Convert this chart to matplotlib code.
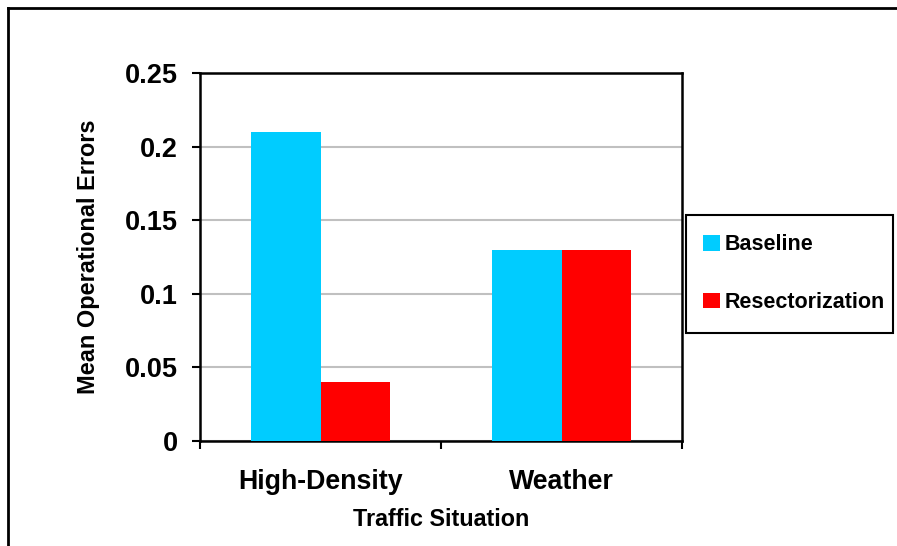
import matplotlib
matplotlib.use("Agg")
import matplotlib.pyplot as plt
from matplotlib.lines import Line2D
from matplotlib.patches import Rectangle
import numpy as np

categories = ["High-Density", "Weather"]
series_names = ["Baseline", "Resectorization"]
baseline = [0.21, 0.13]
resectorization = [0.04, 0.13]
colors = ["#00CCFF", "#FF0000"]
yticks = [0, 0.05, 0.1, 0.15, 0.2, 0.25]
ytick_labels = ["0", "0.05", "0.1", "0.15", "0.2", "0.25"]

plt.rcParams['font.family'] = ['Liberation Sans', 'DejaVu Sans']
plt.rcParams['font.weight'] = 'bold'

fig = plt.figure(figsize=(8.97, 5.46), dpi=100)
ax = fig.add_axes([200/897, 1-441/546, (682-200)/897, (441-73)/546])

x = np.arange(len(categories))
w = 0.29
b1 = ax.bar(x - w/2, baseline, width=w, color=colors[0], label=series_names[0], zorder=3)
b2 = ax.bar(x + w/2, resectorization, width=w, color=colors[1], label=series_names[1], zorder=3)

ax.set_xlim(-0.5, len(categories) - 0.5)
ax.set_ylim(0, 0.25)
ax.set_yticks(yticks)
ax.set_yticklabels(ytick_labels, fontsize=19.5, fontweight='bold')
ax.yaxis.grid(True, color="#c0c0c0", linewidth=1.5, zorder=0)
ax.set_axisbelow(True)

ax.set_xticks(x)
ax.set_xticklabels(categories, fontsize=19.3, fontweight='bold')
ax.set_xticks(np.arange(-0.5, len(categories)), minor=True)
ax.tick_params(axis='x', which='major', length=0, pad=20.5)
ax.tick_params(axis='x', which='minor', length=6, width=1.5, direction='out')
ax.tick_params(axis='y', length=6, width=1.5, direction='out', pad=10)

for s in ax.spines.values():
    s.set_linewidth(1.8)
    s.set_color('black')

ax.set_xlabel("Traffic Situation", fontsize=16.8, fontweight='bold', labelpad=9)
ax.set_ylabel("Mean Operational Errors", fontsize=16.9, fontweight='bold', labelpad=18)

leg = fig.legend(handles=[b1, b2], labels=series_names, loc='upper left',
                 bbox_to_anchor=(684/897, 1-215/546), bbox_transform=fig.transFigure,
                 frameon=False,
                 prop={'size': 15.5, 'weight': 'bold'},
                 handlelength=0.75, handleheight=0.75, handletextpad=0.25,
                 labelspacing=1.7, borderpad=0.9, borderaxespad=0)

# legend frame box
fig.add_artist(Rectangle((686/897, 1-333/546), (893-686)/897, (333-215)/546,
                         transform=fig.transFigure, fill=False, edgecolor='black',
                         linewidth=1.5, zorder=5))

# outer frame (top and left edges visible)
fig.add_artist(Line2D([8/897, 1.0], [1-8/546, 1-8/546], transform=fig.transFigure, color='black', linewidth=2))
fig.add_artist(Line2D([8/897, 8/897], [0, 1-8/546], transform=fig.transFigure, color='black', linewidth=2))

fig.savefig("out.png", dpi=100)
